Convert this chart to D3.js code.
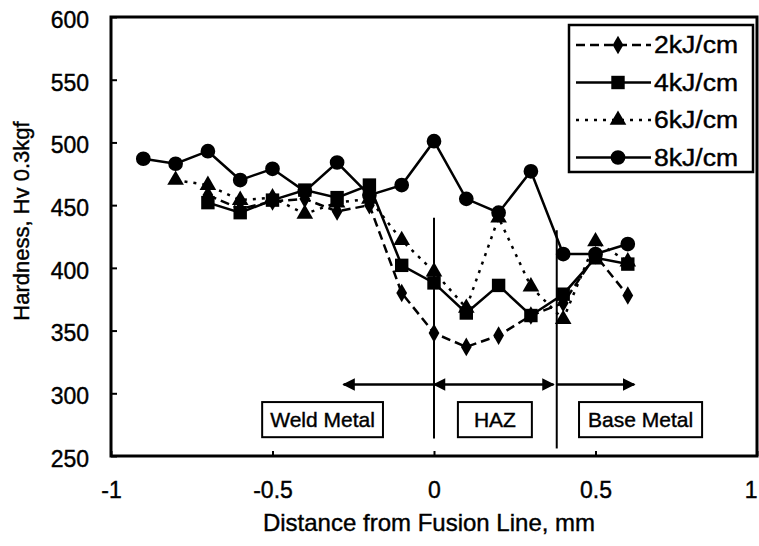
<!DOCTYPE html>
<html>
<head>
<meta charset="utf-8">
<script src="https://cdn.jsdelivr.net/npm/d3@7"></script>
<style>
  body { margin: 0; background: #fff; }
  text { font-family: "Liberation Sans", Arial, sans-serif; fill: #000; stroke: #000; stroke-width: 0.4px; }
</style>
</head>
<body>
<div class="canvas"></div>
<script>
// distances (mm) from fusion line
var distance = [-0.9, -0.8, -0.7, -0.6, -0.5, -0.4, -0.3, -0.2, -0.1, 0, 0.1, 0.2, 0.3, 0.4, 0.5, 0.6]

// hardness values, Hv 0.3kgf (null = no point)
var hv2 = [null, null, 458, 447, 453, 455, 445, 450, 380, 348, 337, 346, 362, 372, 410, 378]
var hv4 = [null, null, 452, 444, 454, 462, 456, 466, 402, 388, 364, 386, 362, 379, 408, 403]
var hv6 = [null, 470, 466, 454, 456, 443, 452, 455, 422, 397, 368, 440, 385, 359, 421, 405]
var hv8 = [487, 483, 493, 470, 479, 461, 484, 458, 466, 501, 455, 444, 477, 411, 411, 419]

var seriesNames = ['2kJ/cm', '4kJ/cm', '6kJ/cm', '8kJ/cm']
var xTicks = [-1, -0.5, 0, 0.5, 1]
var yTicks = [250, 300, 350, 400, 450, 500, 550, 600]

// zone annotations
var zoneBounds = [0, 0.38]
var zoneLabels = ['Weld Metal', 'HAZ', 'Base Metal']

var width = 759, height = 546
var svg = d3.select(".canvas").append("svg").attr("width", width).attr("height", height)

var plotLeft = 111, plotRight = 757, plotTop = 17, plotBottom = 456

var x = d3.scaleLinear().domain([-1, 1]).range([plotLeft, plotRight])
var y = d3.scaleLinear().domain([250, 600]).range([plotBottom, plotTop])

// axes with inward ticks
var xAxis = svg.append('g')
    .attr('transform', 'translate(0,' + plotBottom + ')')
    .call(d3.axisBottom(x).tickValues(xTicks).tickSizeInner(-5).tickSizeOuter(0).tickPadding(26)
        .tickFormat(function(d) { return String(d) }))
xAxis.select('.domain').remove()
xAxis.selectAll('line').attr('stroke', '#000').attr('stroke-width', 2)
xAxis.selectAll('text').attr('font-size', 23).attr('font-family', null)
xAxis.selectAll('.tick').filter(function(d) { return d == 1 }).select('text')
    .attr('text-anchor', 'end').attr('dx', 0)

var yAxis = svg.append('g')
    .attr('transform', 'translate(' + plotLeft + ',0)')
    .call(d3.axisLeft(y).tickValues(yTicks).tickSizeInner(-6).tickSizeOuter(0).tickPadding(22)
        .tickFormat(function(d) { return String(d) }))
yAxis.select('.domain').remove()
yAxis.selectAll('line').attr('stroke', '#000').attr('stroke-width', 2)
yAxis.selectAll('text').attr('font-size', 23).attr('font-family', null).attr('dy', '0.45em')

// plot frame
svg.append('rect')
    .attr('x', plotLeft).attr('y', plotTop)
    .attr('width', plotRight - plotLeft).attr('height', plotBottom - plotTop)
    .attr('fill', 'none').attr('stroke', '#000').attr('stroke-width', 3)

// axis titles
svg.append('text')
    .attr('x', (plotLeft + plotRight) / 2 - 5).attr('y', 531)
    .attr('text-anchor', 'middle').attr('font-size', 24)
    .text('Distance from Fusion Line, mm')

svg.append('text')
    .attr('transform', 'translate(29,221) rotate(-90)')
    .attr('text-anchor', 'middle').attr('font-size', 22)
    .text('Hardness, Hv 0.3kgf')

// zone lines
var zoneTop = [440, 430], zoneBottom = [264, 256]
zoneBounds.forEach(function(b, i) {
    svg.append('line')
        .attr('x1', x(b)).attr('x2', x(b))
        .attr('y1', y(zoneTop[i])).attr('y2', y(zoneBottom[i]))
        .attr('stroke', '#000').attr('stroke-width', 2)
})

// arrows
var defs = svg.append('defs')
defs.append('marker')
    .attr('id', 'arrow').attr('viewBox', '0 0 10 10')
    .attr('refX', 9).attr('refY', 5)
    .attr('markerWidth', 6).attr('markerHeight', 5)
    .attr('markerUnits', 'strokeWidth')
    .attr('orient', 'auto-start-reverse')
    .append('path').attr('d', 'M0,0L10,5L0,10Z').attr('fill', '#000')

var arrowY = 307
var arrows = [[0, -0.28, false], [0, 0.37, true], [0.38, 0.62, false]]
arrows.forEach(function(a) {
    var l = svg.append('line')
        .attr('x1', x(a[0])).attr('x2', x(a[1]))
        .attr('y1', y(arrowY)).attr('y2', y(arrowY))
        .attr('stroke', '#000').attr('stroke-width', 2.5)
        .attr('marker-end', 'url(#arrow)')
    if (a[2]) l.attr('marker-start', 'url(#arrow)')
})

// zone label boxes
var zoneBox = [[-0.532, -0.158], [0.074, 0.303], [0.449, 0.83]]
zoneLabels.forEach(function(t, i) {
    var x0 = x(zoneBox[i][0]), x1 = x(zoneBox[i][1])
    svg.append('rect')
        .attr('x', x0).attr('y', y(293))
        .attr('width', x1 - x0).attr('height', y(265) - y(293))
        .attr('fill', '#fff').attr('stroke', '#000').attr('stroke-width', 2)
    svg.append('text')
        .attr('x', (x0 + x1) / 2).attr('y', y(279) + 7)
        .attr('text-anchor', 'middle').attr('font-size', 21)
        .attr('stroke-width', 0.7)
        .text(t)
})

// series
var series = [
    {name: seriesNames[0], values: hv2, dash: '9,5', shape: d3.symbolDiamond, size: 100},
    {name: seriesNames[1], values: hv4, dash: null, shape: d3.symbolSquare, size: 180},
    {name: seriesNames[2], values: hv6, dash: '3,6', shape: d3.symbolTriangle, size: 120},
    {name: seriesNames[3], values: hv8, dash: null, shape: d3.symbolCircle, size: 170}
]

var line = d3.line()
    .defined(function(d) { return d.v != null })
    .x(function(d) { return x(d.x) })
    .y(function(d) { return y(d.v) })

series.forEach(function(s) {
    var pts = distance.map(function(d, i) { return {x: d, v: s.values[i]} })
    svg.append('path')
        .datum(pts)
        .attr('d', line)
        .attr('fill', 'none').attr('stroke', '#000').attr('stroke-width', 2.5)
        .attr('stroke-dasharray', s.dash)
    svg.selectAll(null)
        .data(pts.filter(function(d) { return d.v != null }))
        .enter().append('path')
        .attr('transform', function(d) { return 'translate(' + x(d.x) + ',' + y(d.v) + ')' })
        .attr('d', d3.symbol().type(s.shape).size(s.size))
        .attr('fill', '#000')
})

// legend
var legend = svg.append('g')
legend.append('rect')
    .attr('x', 569).attr('y', 25).attr('width', 184).attr('height', 147)
    .attr('fill', '#fff').attr('stroke', '#000').attr('stroke-width', 2.5)

series.forEach(function(s, i) {
    var ly = 45 + i * 37.5
    legend.append('line')
        .attr('x1', 576).attr('x2', 651).attr('y1', ly).attr('y2', ly)
        .attr('stroke', '#000').attr('stroke-width', 2.5)
        .attr('stroke-dasharray', s.dash)
    legend.append('path')
        .attr('transform', 'translate(618,' + ly + ')')
        .attr('d', d3.symbol().type(s.shape).size(s.size))
        .attr('fill', '#000')
    legend.append('text')
        .attr('x', 654).attr('y', ly + 8)
        .attr('font-size', 23)
        .attr('textLength', 84).attr('lengthAdjust', 'spacingAndGlyphs')
        .text(s.name)
})
</script>
</body>
</html>
